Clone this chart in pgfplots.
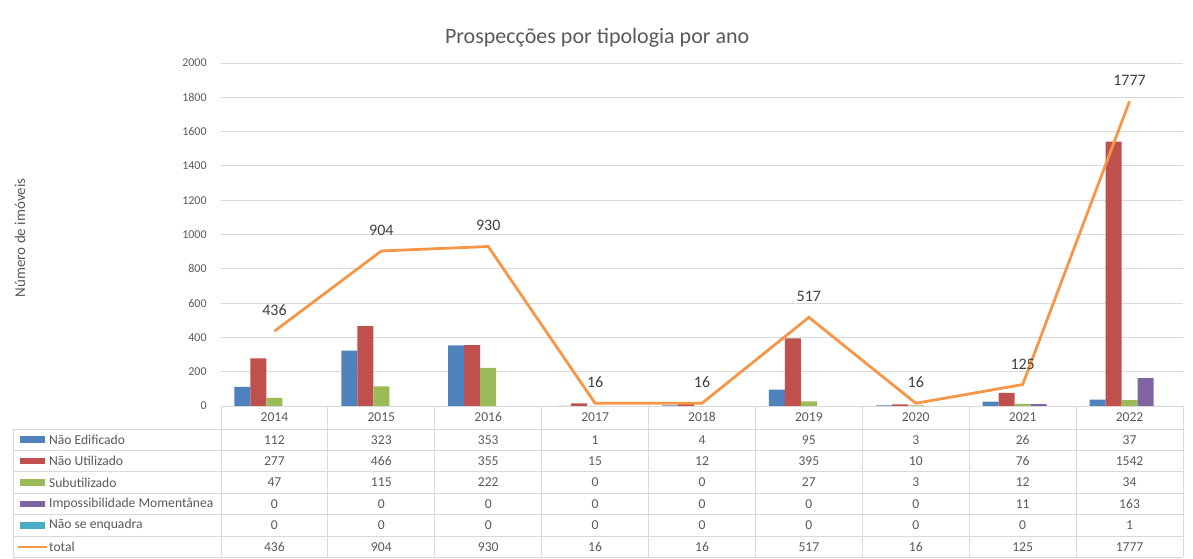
\documentclass[border=0pt]{standalone}
\usepackage{fontspec}
\setmainfont{Carlito}
\usepackage{pgfplots}
\usepackage{pgfplotstable}
\pgfplotsset{compat=1.18}

\definecolor{cBlue}{HTML}{4F81BD}
\definecolor{cRed}{HTML}{C0504D}
\definecolor{cGreen}{HTML}{9BBB59}
\definecolor{cPurple}{HTML}{8064A2}
\definecolor{cAqua}{HTML}{4BACC6}
\definecolor{cOrange}{HTML}{F79646}
\definecolor{txt}{HTML}{595959}
\definecolor{lbl}{HTML}{404040}
\definecolor{gridc}{HTML}{D9D9D9}

% prospecções por ano e tipologia
\pgfplotstableread{
x year ne nu sub imp nse total
0 2014 112 277 47 0 0 436
1 2015 323 466 115 0 0 904
2 2016 353 355 222 0 0 930
3 2017 1 15 0 0 0 16
4 2018 4 12 0 0 0 16
5 2019 95 395 27 0 0 517
6 2020 3 10 3 0 0 16
7 2021 26 76 12 11 0 125
8 2022 37 1542 34 163 1 1777
}\data

\newcommand{\tabfont}{\fontsize{6.8}{8}\selectfont}
% one row of the data table, drawn at axis height #1 from column #2
\newcommand{\tabrow}[2]{%
  \addplot[sharp plot, draw=none, forget plot, nodes near coords,
    point meta=explicit symbolic,
    every node near coord/.append style={anchor=center, inner sep=0pt,
      text height=4.3pt, text depth=0pt, font=\tabfont, text=txt}]
    table[x=x, y expr=#1, meta=#2] {\data};}

\begin{document}
\begin{tikzpicture}
\path (-110.5pt,-76pt) rectangle (486pt,203pt);
\begin{axis}[
  at={(0,0)}, anchor=south west,
  scale only axis, width=481pt, height=171.5pt,
  xmin=-0.5, xmax=8.5, ymin=0, ymax=2000,
  ytick={0,200,...,2000},
  xtick={0,...,8}, xticklabels from table={\data}{year},
  major tick length=0pt,
  axis line style={draw=none},
  ymajorgrids, grid style={draw=gridc, line width=0.5pt},
  /pgf/number format/1000 sep={},
  /pgf/number format/assume math mode=true,
  yticklabel style={font=\fontsize{6}{7}\selectfont, text=txt, inner sep=0pt, xshift=-7pt},
  xticklabel style={font=\tabfont, text=txt, inner sep=0pt, anchor=center,
    text height=4.3pt, text depth=0pt, yshift=-5.75pt},
  title={Prospecções por tipologia por ano},
  title style={at={(rel axis cs:0.391,1)}, anchor=center, yshift=6.5pt,
    font=\fontsize{11}{13}\selectfont, text=txt},
  ylabel={Número de imóveis},
  ylabel style={at={(axis description cs:-0.209,0.49)}, anchor=center,
    font=\fontsize{7.5}{9}\selectfont, text=txt},
  clip=false,
]
\addplot[ybar, bar width=8pt, bar shift=-16pt, draw=none, fill=cBlue]   table[x=x, y=ne]  {\data};
\addplot[ybar, bar width=8pt, bar shift=-8pt,  draw=none, fill=cRed]    table[x=x, y=nu]  {\data};
\addplot[ybar, bar width=8pt, bar shift=0pt,   draw=none, fill=cGreen]  table[x=x, y=sub] {\data};
\addplot[ybar, bar width=8pt, bar shift=8pt,   draw=none, fill=cPurple] table[x=x, y=imp] {\data};
\addplot[ybar, bar width=8pt, bar shift=16pt,  draw=none, fill=cAqua]   table[x=x, y=nse] {\data};
\addplot[sharp plot, no marks, draw=cOrange, line width=1.4pt,
  nodes near coords, point meta=explicit symbolic,
  every node near coord/.append style={anchor=south, inner sep=0pt, yshift=7pt,
    font=\fontsize{8}{9}\selectfont, text=lbl}]
  table[x=x, y=total, meta=total] {\data};
\tabrow{-196.5}{ne}
\tabrow{-321.3}{nu}
\tabrow{-446.1}{sub}
\tabrow{-570.9}{imp}
\tabrow{-695.6}{nse}
\tabrow{-820.4}{total}
\end{axis}

% table borders
\begin{scope}[draw=gridc, line width=0.5pt]
\draw (0,0) -- (481pt,0);
\foreach \y in {-11.5,-22.2,-32.9,-43.6,-54.3,-65.0,-75.7}
  \draw (-103.85pt,\y pt) -- (481pt,\y pt);
\draw (-103.85pt,-11.5pt) -- (-103.85pt,-75.7pt);
\foreach \k in {0,...,9}
  \draw (\k*53.444pt,0) -- (\k*53.444pt,-75.7pt);
\end{scope}

% legend keys in the table
\begin{scope}[every node/.style={anchor=west, inner sep=0pt, font=\tabfont, text=txt}]
\fill[cBlue]   (-100.5pt,-18.5pt) rectangle (-88pt,-15.2pt);
\node at (-86.15pt,-16.85pt) {Não Edificado};
\fill[cRed]    (-100.5pt,-29.2pt) rectangle (-88pt,-25.9pt);
\node at (-86.15pt,-27.55pt) {Não Utilizado};
\fill[cGreen]  (-100.5pt,-39.9pt) rectangle (-88pt,-36.6pt);
\node at (-86.15pt,-38.25pt) {Subutilizado};
\fill[cPurple] (-100.5pt,-50.6pt) rectangle (-88pt,-47.3pt);
\node at (-86.15pt,-48.95pt) {Impossibilidade Momentânea};
\fill[cAqua]   (-100.5pt,-61.3pt) rectangle (-88pt,-58.0pt);
\node at (-86.15pt,-59.65pt) {Não se enquadra};
\draw[cOrange, line width=1pt] (-101.5pt,-70.35pt) -- (-87pt,-70.35pt);
\node at (-86.15pt,-70.35pt) {total};
\end{scope}
\end{tikzpicture}
\end{document}
